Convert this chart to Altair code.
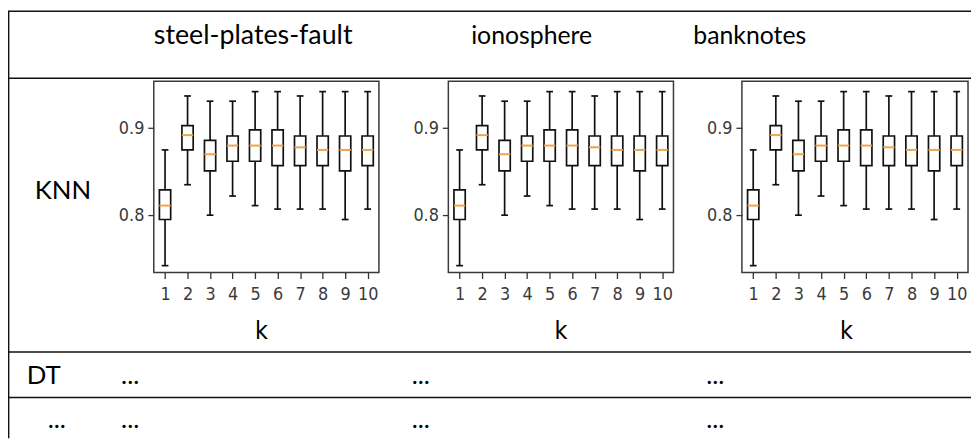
import altair as alt
import pandas as pd

# ---- data ----
K = [1, 2, 3, 4, 5, 6, 7, 8, 9, 10]
WHISKER_LOW = [0.742, 0.835, 0.800, 0.822, 0.811, 0.807, 0.807, 0.807, 0.795, 0.807]
Q1 = [0.795, 0.875, 0.851, 0.862, 0.862, 0.857, 0.857, 0.857, 0.851, 0.857]
MEDIAN = [0.811, 0.892, 0.870, 0.880, 0.880, 0.880, 0.878, 0.875, 0.875, 0.875]
Q3 = [0.829, 0.903, 0.886, 0.891, 0.898, 0.898, 0.891, 0.891, 0.891, 0.891]
WHISKER_HIGH = [0.875, 0.937, 0.931, 0.931, 0.942, 0.942, 0.937, 0.942, 0.942, 0.942]
DATASETS = ["steel-plates-fault", "ionosphere", "banknotes"]
MODELS = ["KNN", "DT", "..."]
Y_TICKS = [0.8, 0.9]
X_DOMAIN = [0.5, 10.5]
Y_DOMAIN = [0.734, 0.954]

df = pd.DataFrame({"k": K, "low": WHISKER_LOW, "q1": Q1, "med": MEDIAN,
                   "q3": Q3, "high": WHISKER_HIGH})
frame_df = pd.DataFrame({"x0": [X_DOMAIN[0]], "x1": [X_DOMAIN[1]],
                         "y0": [Y_DOMAIN[0]], "y1": [Y_DOMAIN[1]]})

# ---- layout ----
W, H = 971, 432
PANEL_X = [(147, 374), (444, 671), (740, 968)]
PANEL_Y = (265, 72)
K_TITLE_X = [255, 557, 845]
TICK_FONT = "DejaVu Sans Condensed"
TABLE_FONT = "Lato"
LINE = "#111111"

one = pd.DataFrame({"a": [0]})


def panel(i):
    xs = alt.Scale(domain=X_DOMAIN, range=list(PANEL_X[i]), nice=False, zero=False)
    ys = alt.Scale(domain=Y_DOMAIN, range=list(PANEL_Y), nice=False, zero=False)
    xaxis = alt.Axis(orient="bottom", offset=PANEL_Y[0] - H, values=K, domain=False,
                     grid=False, tickSize=6, tickWidth=1.3, tickColor="#333",
                     labelFont=TICK_FONT, labelFontSize=18, labelColor="#3a3a3a",
                     labelPadding=7, title="k", titleFont=TICK_FONT,
                     titleFontSize=25, titleFontWeight="normal", titleColor="#000",
                     titleX=K_TITLE_X[i], titleY=66, titleAlign="center",
                     titleBaseline="alphabetic", labelAngle=0)
    yaxis = alt.Axis(orient="left", offset=-PANEL_X[i][0], values=Y_TICKS, format=".1f",
                     domain=False, grid=False, tickSize=6, tickWidth=1.3,
                     tickColor="#333", labelFont=TICK_FONT, labelFontSize=18,
                     labelColor="#3a3a3a", labelPadding=4, title=None)
    base = alt.Chart(df).transform_calculate(
        bl="datum.k - 0.25", br="datum.k + 0.25",
        cl="datum.k - 0.15", cr="datum.k + 0.15")
    whisk = base.mark_rule(color=LINE, strokeWidth=1.7).encode(
        x=alt.X("k:Q", scale=xs, axis=xaxis),
        y=alt.Y("low:Q", scale=ys, axis=yaxis), y2="high:Q")
    box = base.mark_rect(fill="white", stroke=LINE, strokeWidth=1.7).encode(
        x=alt.X("bl:Q", scale=xs, axis=xaxis), x2="br:Q",
        y=alt.Y("q1:Q", scale=ys, axis=yaxis), y2="q3:Q")
    cap_hi = base.mark_rule(color=LINE, strokeWidth=1.7).encode(
        x=alt.X("cl:Q", scale=xs, axis=xaxis), x2="cr:Q",
        y=alt.Y("high:Q", scale=ys, axis=yaxis))
    cap_lo = base.mark_rule(color=LINE, strokeWidth=1.7).encode(
        x=alt.X("cl:Q", scale=xs, axis=xaxis), x2="cr:Q",
        y=alt.Y("low:Q", scale=ys, axis=yaxis))
    med = base.mark_rule(color="#f2a24a", strokeWidth=2.0).encode(
        x=alt.X("bl:Q", scale=xs, axis=xaxis), x2="br:Q",
        y=alt.Y("med:Q", scale=ys, axis=yaxis))
    frame = alt.Chart(frame_df).mark_rect(fill=None, stroke="#3a3a3a", strokeWidth=1.5).encode(
        x=alt.X("x0:Q", scale=xs, axis=xaxis), x2="x1:Q",
        y=alt.Y("y0:Q", scale=ys, axis=yaxis), y2="y1:Q")
    return alt.layer(frame, whisk, box, cap_hi, cap_lo, med)


def hline(y, x0=0, x1=W):
    return alt.Chart(one).mark_rule(color=LINE, strokeWidth=1.4).encode(
        x=alt.value(x0), x2=alt.value(x1), y=alt.value(y))


def vline(x, y0, y1):
    return alt.Chart(one).mark_rule(color=LINE, strokeWidth=1.4).encode(
        x=alt.value(x), y=alt.value(y0), y2=alt.value(y1))


def label(text, x, y, size=26):
    return alt.Chart(one).mark_text(text=text, font=TABLE_FONT, fontSize=size,
                                    align="left", baseline="alphabetic",
                                    color="#000").encode(
        x=alt.value(x), y=alt.value(y))


deco = [hline(1.5), hline(69), hline(345), hline(391), vline(0.7, 1.5, H)]
header_x = [147, 467, 691]
header_size = [27, 25, 25]
for name, hx, hs in zip(DATASETS, header_x, header_size):
    deco.append(label(name, hx, 35, hs))
row_y = [191, 377, 422]
row_x = [27, 19, 40]
for m, rx, ry in zip(MODELS, row_x, row_y):
    deco.append(label(m, rx, ry))
for ry in row_y[1:]:
    for dx in [114, 407, 704]:
        deco.append(label("...", dx, ry))

chart = alt.layer(panel(0), panel(1), panel(2), *deco).resolve_scale(
    x="independent", y="independent").resolve_axis(
    x="independent", y="independent").properties(
    width=W, height=H, autosize=alt.AutoSizeParams(type="none"), padding=0
).configure_view(stroke=None)

chart.save("out.html", embed_options={"renderer": "svg", "actions": False})
